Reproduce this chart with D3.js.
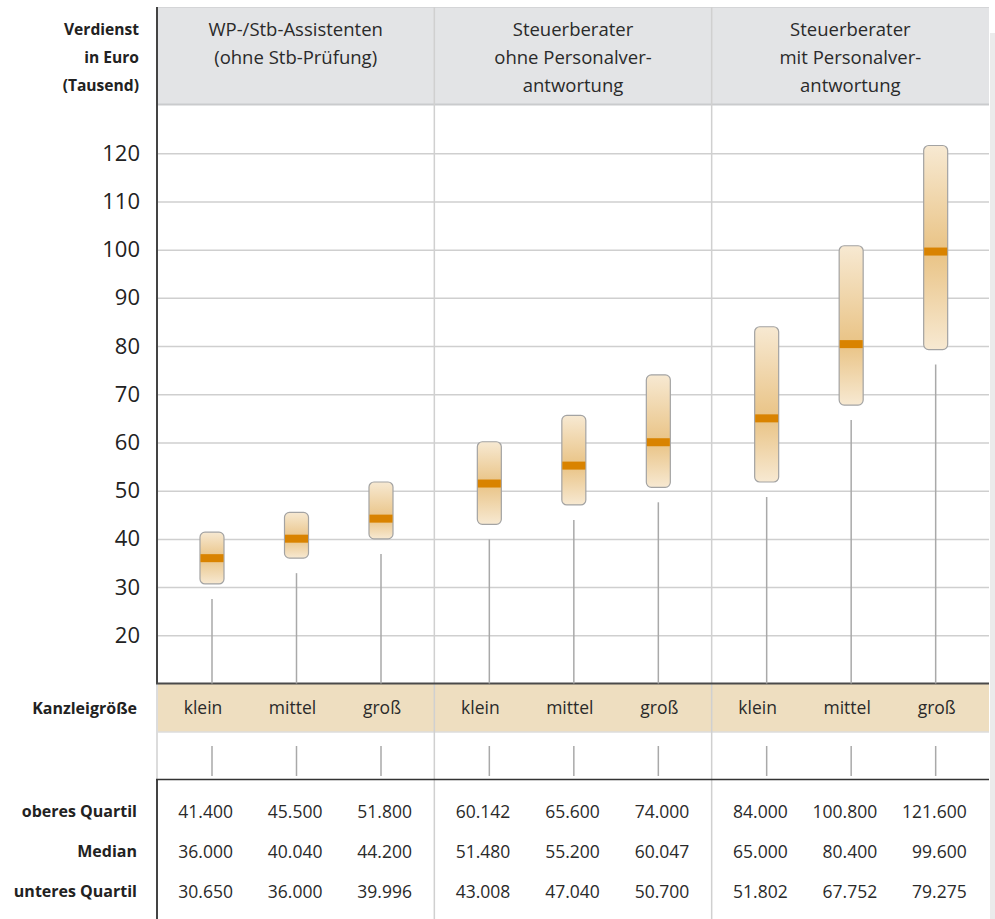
<!DOCTYPE html>
<html lang="de">
<head>
<meta charset="utf-8">
<title>Verdienst nach Kanzleigröße</title>
<script src="https://cdn.jsdelivr.net/npm/d3@7/dist/d3.min.js"></script>
<style>
  html, body { margin: 0; padding: 0; background: #fff; }
  svg { display: block; font-family: "Open Sans", "Noto Sans", sans-serif; }
</style>
</head>
<body>
<svg id="chart" width="995" height="919"></svg>
<script>
// Gruppen (Spaltenköpfe), Kanzleigrößen und Quartilswerte in Euro
const groups = [
  ["WP-/Stb-Assistenten", "(ohne Stb-Prüfung)"],
  ["Steuerberater", "ohne Personalver-", "antwortung"],
  ["Steuerberater", "mit Personalver-", "antwortung"]
];
const sizes = ["klein", "mittel", "groß"];
const upperQuartile = [41400, 45500, 51800, 60142, 65600, 74000, 84000, 100800, 121600];
const medianValues  = [36000, 40040, 44200, 51480, 55200, 60047, 65000, 80400, 99600];
const lowerQuartile = [30650, 36000, 39996, 43008, 47040, 50700, 51802, 67752, 79275];
const yTicks = [20, 30, 40, 50, 60, 70, 80, 90, 100, 110, 120];
const axisTitle = ["Verdienst", "in Euro", "(Tausend)"];
const rowTitles = ["oberes Quartil", "Median", "unteres Quartil"];
const categoryTitle = "Kanzleigröße";

const de = d3.formatLocale({ decimal: ",", thousands: ".", grouping: [3], currency: ["", " €"] });
const fmt = de.format(",d");

// Layout
const W = 995, H = 919;
const left = 157, right = 989;
const headTop = 7, plotTop = 105, plotBottom = 683.5;
const catTop = 684, catBottom = 732;
const tickRowTop = 746, tickRowBottom = 776;
const tableTop = 779.5;
const rowY = [811.5, 851.5, 891.5];

const svg = d3.select("#chart");

const y = d3.scaleLinear().domain([10, 130]).range([plotBottom, plotTop]);
const gx = d3.scaleBand().domain(d3.range(groups.length)).range([left, right]);
const boxX = d3.scalePoint().domain(sizes).range([55, 224]);
const labelX = d3.scalePoint().domain(sizes).range([46, 225]);

const items = [];
groups.forEach((g, gi) => sizes.forEach((s, si) => {
  const i = gi * sizes.length + si;
  items.push({
    i, gi, s,
    cx: gx(gi) + boxX(s),
    lx: gx(gi) + labelX(s),
    hi: upperQuartile[i] / 1000,
    med: medianValues[i] / 1000,
    lo: lowerQuartile[i] / 1000,
    vals: [upperQuartile[i], medianValues[i], lowerQuartile[i]]
  });
}));

// Rechter grauer Rand
svg.append("rect").attr("x", 990).attr("y", 33).attr("width", 5).attr("height", H - 33).attr("fill", "#ebebeb");

// Kopfzeile
svg.append("rect").attr("x", left).attr("y", headTop).attr("width", right - left).attr("height", plotTop - headTop)
  .attr("fill", "#e3e4e6");
svg.append("line").attr("x1", left).attr("x2", right).attr("y1", headTop + 0.5).attr("y2", headTop + 0.5)
  .attr("stroke", "#d4d5d7").attr("stroke-width", 1);
svg.append("line").attr("x1", left).attr("x2", right).attr("y1", plotTop - 0.5).attr("y2", plotTop - 0.5)
  .attr("stroke", "#cacbcd").attr("stroke-width", 2);

groups.forEach((lines, gi) => {
  const t = svg.append("text").attr("x", gx(gi) + gx.bandwidth() / 2).attr("text-anchor", "middle")
    .attr("font-size", 18.5).attr("fill", "#2a2a2a");
  lines.forEach((ln, k) => t.append("tspan").attr("x", gx(gi) + gx.bandwidth() / 2).attr("y", 30 + k * 28)
    .attr("dy", "0.35em").text(ln));
});

// Achsentitel
const at = svg.append("text").attr("text-anchor", "end").attr("font-size", 15.6).attr("font-weight", 700).attr("fill", "#222");
axisTitle.forEach((ln, k) => at.append("tspan").attr("x", 139).attr("y", 30 + k * 28).attr("dy", "0.35em").text(ln));

// Gitterlinien und Y-Achse
const grid = svg.append("g").attr("transform", `translate(${left},0)`)
  .call(d3.axisLeft(y).tickValues(yTicks).tickSize(-(right - left)).tickFormat(""));
grid.select(".domain").remove();
grid.selectAll(".tick line").attr("stroke", "#cfcfcf").attr("stroke-width", 1.5);

const yAxis = svg.append("g").attr("transform", `translate(${left},0)`)
  .call(d3.axisLeft(y).tickValues(yTicks).tickSize(0).tickPadding(17));
yAxis.select(".domain").remove();
yAxis.selectAll(".tick text").attr("font-size", 22).attr("fill", "#222")
  .attr("font-family", "\"Open Sans\", \"Noto Sans\", sans-serif");

// Kategorie-Zeile
svg.append("rect").attr("x", left).attr("y", catTop).attr("width", right - left).attr("height", catBottom - catTop)
  .attr("fill", "#eedec0");
svg.append("line").attr("x1", left).attr("x2", right).attr("y1", catBottom).attr("y2", catBottom)
  .attr("stroke", "#dcdcdc").attr("stroke-width", 1.5);

// Gruppentrenner
d3.range(1, groups.length).forEach(gi => {
  svg.append("line").attr("x1", gx(gi)).attr("x2", gx(gi)).attr("y1", headTop).attr("y2", H)
    .attr("stroke", "#d0d0d0").attr("stroke-width", 1.5);
});

// Linke Begrenzungslinien
svg.append("line").attr("x1", left).attr("x2", left).attr("y1", headTop).attr("y2", plotBottom)
  .attr("stroke", "#444").attr("stroke-width", 2);
svg.append("line").attr("x1", left).attr("x2", left).attr("y1", plotBottom).attr("y2", tableTop)
  .attr("stroke", "#dcdcdc").attr("stroke-width", 2);
svg.append("line").attr("x1", left).attr("x2", left).attr("y1", tableTop).attr("y2", H)
  .attr("stroke", "#444").attr("stroke-width", 2);

// Horizontale Trennlinien
svg.append("line").attr("x1", left - 1).attr("x2", right).attr("y1", plotBottom).attr("y2", plotBottom)
  .attr("stroke", "#4a4a4a").attr("stroke-width", 2);
svg.append("line").attr("x1", left - 1).attr("x2", right).attr("y1", tableTop).attr("y2", tableTop)
  .attr("stroke", "#333").attr("stroke-width", 1.5);

// Stiele unter den Boxen
svg.append("g").selectAll("line").data(items).join("line")
  .attr("x1", d => d.cx).attr("x2", d => d.cx)
  .attr("y1", d => y(d.lo) + 15).attr("y2", plotBottom)
  .attr("stroke", "#a9a9a9").attr("stroke-width", 1.5);

svg.append("g").selectAll("line").data(items).join("line")
  .attr("x1", d => d.cx).attr("x2", d => d.cx)
  .attr("y1", tickRowTop).attr("y2", tickRowBottom)
  .attr("stroke", "#a9a9a9").attr("stroke-width", 1.5);

// Verläufe für die Boxen
const defs = svg.append("defs");
items.forEach(d => {
  const off = (y(d.med) - y(d.hi)) / (y(d.lo) - y(d.hi));
  const gr = defs.append("linearGradient").attr("id", "grad" + d.i)
    .attr("x1", 0).attr("y1", 0).attr("x2", 0).attr("y2", 1);
  gr.append("stop").attr("offset", 0).attr("stop-color", "#f7e9d2");
  gr.append("stop").attr("offset", off).attr("stop-color", "#e9c385");
  gr.append("stop").attr("offset", 1).attr("stop-color", "#f7e9d2");
});

const boxW = 24;
const boxes = svg.append("g").selectAll("g").data(items).join("g");
boxes.append("rect")
  .attr("x", d => d.cx - boxW / 2).attr("width", boxW)
  .attr("y", d => y(d.hi)).attr("height", d => y(d.lo) - y(d.hi))
  .attr("rx", 5).attr("ry", 5)
  .attr("fill", d => `url(#grad${d.i})`)
  .attr("stroke", "#a3a3a3").attr("stroke-width", 1.2);
boxes.append("rect")
  .attr("x", d => d.cx - boxW / 2 + 0.5).attr("width", boxW - 1)
  .attr("y", d => y(d.med) - 4).attr("height", 8)
  .attr("fill", "#d98300");

// Beschriftung der Kategorie-Zeile
svg.append("text").attr("x", 137).attr("y", (catTop + catBottom) / 2).attr("dy", "0.35em")
  .attr("text-anchor", "end").attr("font-size", 16).attr("font-weight", 700).attr("fill", "#222")
  .text(categoryTitle);
svg.append("g").selectAll("text").data(items).join("text")
  .attr("x", d => d.lx).attr("y", (catTop + catBottom) / 2).attr("dy", "0.35em")
  .attr("text-anchor", "middle").attr("font-size", 17.5).attr("fill", "#2a2a2a")
  .text(d => d.s);

// Wertetabelle
rowTitles.forEach((t, r) => {
  svg.append("text").attr("x", 137).attr("y", rowY[r]).attr("dy", "0.35em")
    .attr("text-anchor", "end").attr("font-size", 16).attr("font-weight", 700).attr("fill", "#222").text(t);
  svg.append("g").selectAll("text").data(items).join("text")
    .attr("x", d => d.lx + 30).attr("y", rowY[r]).attr("dy", "0.35em")
    .attr("text-anchor", "end").attr("font-size", 17.5).attr("fill", "#2a2a2a")
    .text(d => fmt(d.vals[r]));
});
</script>
</body>
</html>
